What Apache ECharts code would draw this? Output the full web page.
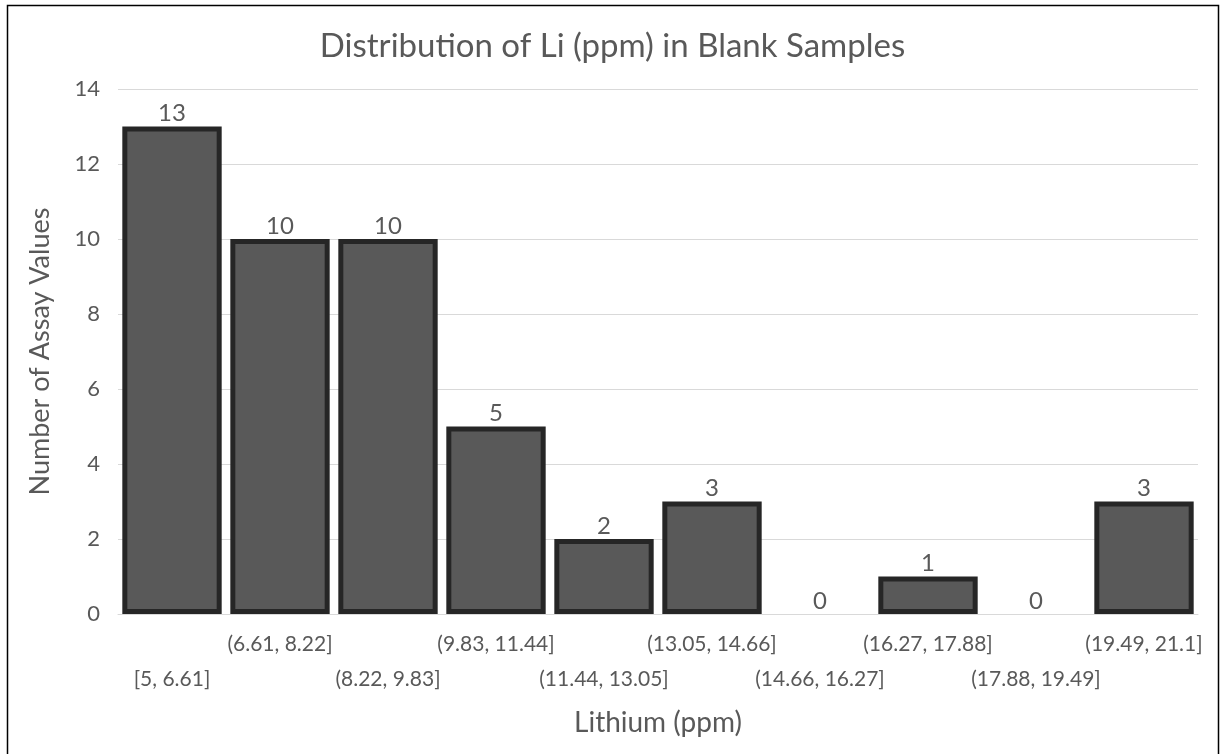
<!DOCTYPE html>
<html><head><meta charset="utf-8">
<script src="https://cdn.jsdelivr.net/npm/echarts@6/dist/echarts.min.js"></script>
<style>html,body{margin:0;padding:0;background:#fff}#c{width:1225px;height:754px}</style>
</head><body><div id="c"></div>
<script>
const categories = ["[5, 6.61]","(6.61, 8.22]","(8.22, 9.83]","(9.83, 11.44]","(11.44, 13.05]","(13.05, 14.66]","(14.66, 16.27]","(16.27, 17.88]","(17.88, 19.49]","(19.49, 21.1]"];
const counts = [13,10,10,5,2,3,0,1,0,3];
const yTicks = [0,2,4,6,8,10,12,14];

const font = 'Lato, "Open Sans", sans-serif';
const chart = echarts.init(document.getElementById('c'));
chart.setOption({
  animation:false,
  title:{text:'Distribution of Li (ppm) in Blank Samples',left:'center',top:25,
    textStyle:{fontFamily:font,fontSize:33,fontWeight:'normal',color:'#595959'}},
  grid:{left:118,right:27,top:89,bottom:140},
  graphic:[{type:'rect',shape:{x:7.5,y:5.5,width:1211,height:760},style:{fill:'none',stroke:'#000',lineWidth:1.5},silent:true}],
  xAxis:{type:'category',data:categories,
    name:'Lithium (ppm)',nameLocation:'middle',nameGap:95,
    nameTextStyle:{fontFamily:font,fontSize:28,color:'#595959'},
    axisTick:{show:false},
    axisLine:{lineStyle:{color:'#d9d9d9',width:1}},
    axisLabel:{interval:0,fontFamily:font,fontSize:21,color:'#595959',margin:13,lineHeight:35,
      formatter:(v,i)=> i%2===0 ? '\n'+v : v}},
  yAxis:{type:'value',min:0,max:14,interval:2,
    name:'Number of Assay Values',nameLocation:'middle',nameGap:64,
    nameTextStyle:{fontFamily:font,fontSize:27,color:'#595959'},
    axisLabel:{fontFamily:font,fontSize:22,color:'#595959',margin:18,
      formatter:v=> yTicks.includes(v)? String(v):''},
    splitLine:{lineStyle:{color:'#d9d9d9',width:1}},
    axisLine:{show:false},axisTick:{show:false}},
  series:[{type:'bar',barCategoryGap:'8%',
    data:counts.map(v=> v===0 ? {value:v,itemStyle:{borderWidth:0}} : v),
    itemStyle:{color:'#595959',borderColor:'#262626',borderWidth:5},
    label:{show:true,position:'top',distance:1,fontFamily:font,fontSize:24,color:'#595959'}}]
});
</script></body></html>
